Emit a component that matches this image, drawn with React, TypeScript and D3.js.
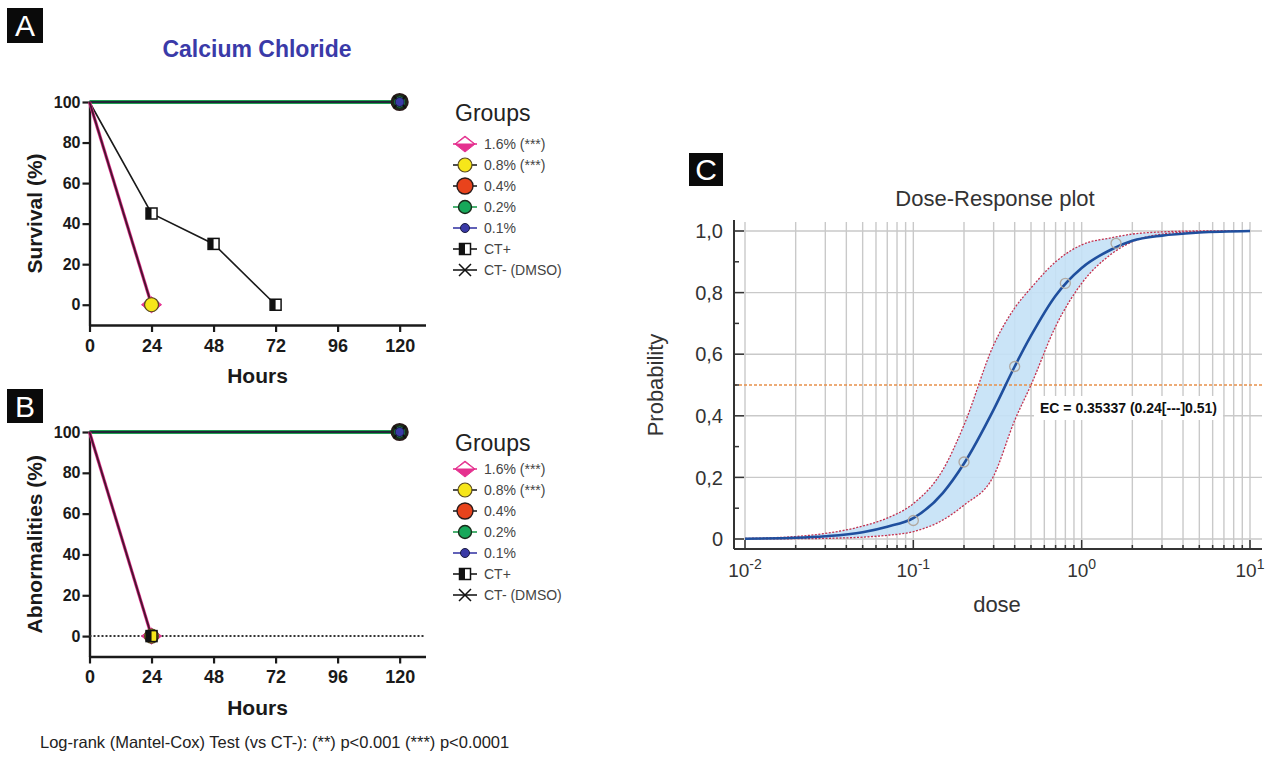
import React, { useEffect, useRef } from 'react';
import * as d3 from 'd3';

const WIDTH = 1272;
const HEIGHT = 759;
const FONT = '"Liberation Sans", Arial, Helvetica, sans-serif';

// ---- panels A and B ----
const GROUP_LABELS = ['1.6% (***)', '0.8% (***)', '0.4%', '0.2%', '0.1%', 'CT+', 'CT- (DMSO)'];
const HOUR_TICKS = [0, 24, 48, 72, 96, 120];
const PCT_TICKS = [0, 20, 40, 60, 80, 100];

// survival [hours, %]
const survival16 = [[0, 100], [24, 0]];
const survival08 = [[0, 100], [24, 0]];
const survival04 = [[0, 100], [120, 100]];
const survival02 = [[0, 100], [120, 100]];
const survival01 = [[0, 100], [120, 100]];
const survivalCTpos = [[0, 100], [24, 45], [48, 30], [72, 0]];
const survivalCTneg = [[0, 100], [120, 100]];

// abnormalities [hours, %]
const abnorm16 = [[0, 100], [24, 0]];
const abnorm08 = [[0, 100], [24, 0]];
const abnorm04 = [[0, 100], [120, 100]];
const abnorm02 = [[0, 100], [120, 100]];
const abnorm01 = [[0, 100], [120, 100]];
const abnormCTpos = [[0, 100], [24, 0]];
const abnormCTneg = [[0, 100], [120, 100]];

// ---- panel C ----
const DOSE_GRID = [0.01, 0.02, 0.03, 0.05, 0.07, 0.1, 0.15, 0.2, 0.3, 0.4, 0.5, 0.7, 1, 1.5, 2, 3, 5, 10];
const FIT_PROB = [0.001, 0.004, 0.009, 0.022, 0.04, 0.068, 0.15, 0.245, 0.42, 0.56, 0.66, 0.79, 0.88, 0.94, 0.968, 0.985, 0.995, 1.0];
const UPPER_PROB = [0.002, 0.008, 0.018, 0.042, 0.068, 0.115, 0.225, 0.37, 0.63, 0.75, 0.815, 0.9, 0.955, 0.978, 0.99, 0.997, 1.0, 1.0];
const LOWER_PROB = [0, 0.001, 0.002, 0.006, 0.012, 0.024, 0.062, 0.11, 0.205, 0.385, 0.5, 0.69, 0.83, 0.925, 0.965, 0.99, 0.998, 1.0];
const DOSE_OBS = [0.1, 0.2, 0.4, 0.8, 1.6];
const PROB_OBS = [0.06, 0.25, 0.56, 0.83, 0.96];
const PROB_TICKS = [0, 0.2, 0.4, 0.6, 0.8, 1.0];
const PROB_TICK_LABELS = ['0', '0,2', '0,4', '0,6', '0,8', '1,0'];
const PROB_MINOR = [0.1, 0.3, 0.5, 0.7, 0.9];
const DECADES = [0.01, 0.1, 1, 10];
const DECADE_EXP = ['-2', '-1', '0', '1'];
const EC_LABEL = 'EC = 0.35337 (0.24[---]0.51)';
const EC_LEVEL = 0.5;

const FOOTNOTE = 'Log-rank (Mantel-Cox) Test (vs CT-): (**) p<0.001 (***) p<0.0001';

// marker / line style of each group (same order as GROUP_LABELS)
const STYLES = [
  { line: '#e5318f', lw: 3.2, marker: 'diamond' },
  { line: '#4a1530', lw: 1.9, marker: 'yellow' },
  { line: '#d23a1c', lw: 1.5, marker: 'red' },
  { line: '#1f9e4f', lw: 3.8, marker: 'green' },
  { line: '#3a3aa6', lw: 1.5, marker: 'blue' },
  { line: '#1a1a1a', lw: 1.6, marker: 'square' },
  { line: '#1a1a1a', lw: 1.7, marker: 'times' },
];

const drawMarker = (g: any, kind: string, cx: number, cy: number, plot: boolean, squareOpen = false) => {
  const m = g.append('g').attr('transform', `translate(${cx},${cy})`);
  const ring = plot ? 2.2 : 1.4;
  if (kind === 'diamond') {
    m.append('path').attr('d', 'M0,-8L10,0L0,8L-10,0Z').attr('fill', '#e5318f').attr('stroke', '#e5318f').attr('stroke-width', 1);
    m.append('path').attr('d', 'M-8,-0.5L0,-6.5L8,-0.5Z').attr('fill', '#fff');
  } else if (kind === 'yellow') {
    m.append('circle').attr('r', 7).attr('fill', '#f6e61a').attr('stroke', '#5a4a20').attr('stroke-width', 1.2);
  } else if (kind === 'red') {
    m.append('circle').attr('r', 8).attr('fill', '#e8431c').attr('stroke', '#2a1a1a').attr('stroke-width', ring);
  } else if (kind === 'green') {
    m.append('circle').attr('r', 6.5).attr('fill', '#17a85a').attr('stroke', '#1a2a1a').attr('stroke-width', ring);
  } else if (kind === 'blue') {
    m.append('circle').attr('r', 4.5).attr('fill', '#3a3aa6').attr('stroke', '#1a1a40').attr('stroke-width', 1);
  } else if (kind === 'square') {
    m.append('rect').attr('x', -5.5).attr('y', -5.5).attr('width', 11).attr('height', 11)
      .attr('fill', squareOpen ? 'none' : '#fff').attr('stroke', '#111').attr('stroke-width', 1.5);
    m.append('rect').attr('x', -5.5).attr('y', -5.5).attr('width', 5.5).attr('height', 11).attr('fill', '#111');
  } else if (kind === 'times') {
    m.append('path').attr('d', 'M-6,-6L6,6M-6,6L6,-6').attr('stroke', '#111').attr('stroke-width', plot ? 2.2 : 1.5);
  }
};

const boxLabel = (svg: any, letter: string, x: number, y: number, w: number, h: number) => {
  svg.append('rect').attr('x', x).attr('y', y).attr('width', w).attr('height', h).attr('fill', '#0a0a0a');
  svg.append('text').attr('x', x + w / 2).attr('y', y + h / 2).attr('dy', '0.36em')
    .attr('text-anchor', 'middle').attr('font-size', 30).attr('fill', '#fff').text(letter);
};

const drawLegend = (svg: any, titleY: number, firstY: number) => {
  svg.append('text').attr('x', 455).attr('y', titleY).attr('font-size', 23).attr('fill', '#222').text('Groups');
  GROUP_LABELS.forEach((label, i) => {
    const cy = firstY + i * 21;
    const st = STYLES[i];
    svg.append('line').attr('x1', 453).attr('x2', 477).attr('y1', cy).attr('y2', cy)
      .attr('stroke', i === 1 || i === 2 ? '#222' : st.line).attr('stroke-width', 1.6);
    drawMarker(svg, st.marker, 465, cy, false);
    svg.append('text').attr('x', 484).attr('y', cy).attr('dy', '0.36em')
      .attr('font-size', 14).attr('fill', '#444').text(label);
  });
};

const drawPanel = (svg: any, yTop: number, yBottom: number, yLabel: string, series: number[][][], inB: boolean) => {
  const x = d3.scaleLinear().domain([0, 130]).range([89.5, 425.5]);
  const y = d3.scaleLinear().domain([-10, 100]).range([yBottom, yTop]);
  const g = svg.append('g');

  const styleAxis = (a: any, size: number) => {
    a.select('.domain').attr('stroke', '#1a1a1a').attr('stroke-width', 2.4);
    a.selectAll('.tick line').attr('stroke', '#1a1a1a').attr('stroke-width', 2.2);
    a.selectAll('.tick text').attr('fill', '#1a1a1a').attr('font-weight', 'bold')
      .attr('font-size', size).attr('font-family', FONT);
  };

  const yAxis = g.append('g').attr('transform', `translate(${x(0)},0)`)
    .call(d3.axisLeft(y).tickValues(PCT_TICKS).tickSize(7).tickSizeOuter(0).tickPadding(2));
  styleAxis(yAxis, 16);
  const xAxis = g.append('g').attr('transform', `translate(0,${y(-10)})`)
    .call(d3.axisBottom(x).tickValues(HOUR_TICKS).tickSize(7).tickSizeOuter(0).tickPadding(7));
  styleAxis(xAxis, 18);

  if (inB) {
    g.append('line').attr('x1', x(0)).attr('x2', x(130)).attr('y1', y(0)).attr('y2', y(0))
      .attr('stroke', '#333').attr('stroke-width', 2).attr('stroke-dasharray', '2,2');
  }

  const line = d3.line().x((d: any) => x(d[0])).y((d: any) => y(d[1]));
  // draw order: CT+, 0.4, 0.2, 0.1, CT-, 1.6, 0.8
  const order = [5, 2, 3, 4, 6, 0, 1];
  order.forEach((i) => {
    const st = STYLES[i];
    g.append('path').datum(series[i]).attr('d', line).attr('fill', 'none')
      .attr('stroke', st.line).attr('stroke-width', st.lw);
  });

  // markers (not at time 0)
  const markerOrder = inB ? [0, 1, 5, 2, 3, 6, 4] : [5, 0, 1, 2, 3, 6, 4];
  markerOrder.forEach((i) => {
    series[i].slice(1).forEach((d) => drawMarker(g, STYLES[i].marker, x(d[0]), y(d[1]), true, inB));
  });

  g.append('text').attr('transform', `translate(42,${(yTop + yBottom) / 2}) rotate(-90)`)
    .attr('text-anchor', 'middle').attr('font-weight', 'bold').attr('font-size', 21)
    .attr('fill', '#1a1a1a').text(yLabel);
  g.append('text').attr('x', (x(0) + x(130)) / 2).attr('y', yBottom + 58)
    .attr('text-anchor', 'middle').attr('font-weight', 'bold').attr('font-size', 21)
    .attr('fill', '#1a1a1a').text('Hours');
};

const drawDoseResponse = (svg: any) => {
  const left = 734, right = 1262, top = 220, bottom = 549;
  const x = d3.scaleLog().domain([0.01, 10]).range([745, 1250]);
  const y = d3.scaleLinear().domain([0, 1]).range([539, 231]);
  const g = svg.append('g');
  const grid = '#c9c9c9';

  // vertical grid at 1..9 x each decade
  const vTicks: number[] = [];
  DECADES.slice(0, 3).forEach((d) => d3.range(1, 10).forEach((k) => vTicks.push(d * k)));
  vTicks.push(10);
  g.selectAll('.vgrid').data(vTicks).join('line')
    .attr('x1', (d: number) => x(d)).attr('x2', (d: number) => x(d))
    .attr('y1', top + 2).attr('y2', bottom).attr('stroke', grid).attr('stroke-width', 1.4);
  g.selectAll('.hgrid').data(PROB_TICKS).join('line')
    .attr('x1', left).attr('x2', right).attr('y1', (d: number) => y(d)).attr('y2', (d: number) => y(d))
    .attr('stroke', grid).attr('stroke-width', 1.4);

  const rows = DOSE_GRID.map((d, i) => ({ d, fit: FIT_PROB[i], up: UPPER_PROB[i], lo: LOWER_PROB[i] }));
  const area = d3.area().x((r: any) => x(r.d)).y0((r: any) => y(r.lo)).y1((r: any) => y(r.up)).curve(d3.curveMonotoneX);
  g.append('path').datum(rows).attr('d', area).attr('fill', '#c4e1f6').attr('opacity', 0.9);

  g.append('line').attr('x1', left).attr('x2', right).attr('y1', y(EC_LEVEL)).attr('y2', y(EC_LEVEL))
    .attr('stroke', '#e8904a').attr('stroke-width', 1.6).attr('stroke-dasharray', '3,2');

  const mk = (key: string) => d3.line().x((r: any) => x(r.d)).y((r: any) => y(r[key])).curve(d3.curveMonotoneX);
  ['up', 'lo'].forEach((k) => {
    g.append('path').datum(rows).attr('d', mk(k)).attr('fill', 'none')
      .attr('stroke', '#c4304e').attr('stroke-width', 1.3).attr('stroke-dasharray', '2,1.5');
  });
  g.append('path').datum(rows).attr('d', mk('fit')).attr('fill', 'none')
    .attr('stroke', '#1f4f9e').attr('stroke-width', 2.6);

  g.selectAll('.obs').data(DOSE_OBS).join('circle')
    .attr('cx', (d: number) => x(d)).attr('cy', (d: number, i: number) => y(PROB_OBS[i])).attr('r', 5)
    .attr('fill', 'none').attr('stroke', '#b0a8a0').attr('stroke-width', 1.3);

  // axes
  g.append('line').attr('x1', left).attr('x2', left).attr('y1', top).attr('y2', bottom).attr('stroke', '#333').attr('stroke-width', 2);
  g.append('line').attr('x1', left).attr('x2', right).attr('y1', bottom).attr('y2', bottom).attr('stroke', '#333').attr('stroke-width', 2);
  g.selectAll('.ymaj').data(PROB_TICKS).join('line')
    .attr('x1', left).attr('x2', left + 10).attr('y1', (d: number) => y(d)).attr('y2', (d: number) => y(d))
    .attr('stroke', '#333').attr('stroke-width', 1.5);
  g.selectAll('.ymin').data(PROB_MINOR).join('line')
    .attr('x1', left).attr('x2', left + 5).attr('y1', (d: number) => y(d)).attr('y2', (d: number) => y(d))
    .attr('stroke', '#333').attr('stroke-width', 1.5);
  g.selectAll('.xtick').data(vTicks).join('line')
    .attr('x1', (d: number) => x(d)).attr('x2', (d: number) => x(d))
    .attr('y1', bottom).attr('y2', (d: number) => bottom - (DECADES.includes(d) ? 9 : 4))
    .attr('stroke', '#333').attr('stroke-width', 1.5);

  g.selectAll('.ylab').data(PROB_TICKS).join('text')
    .attr('x', 723).attr('y', (d: number) => y(d)).attr('dy', '0.36em').attr('text-anchor', 'end')
    .attr('font-size', 20).attr('fill', '#333').text((d: number, i: number) => PROB_TICK_LABELS[i]);

  DECADES.forEach((d, i) => {
    const t = g.append('text').attr('x', x(d)).attr('y', 577).attr('text-anchor', 'middle')
      .attr('font-size', 19).attr('fill', '#333');
    t.append('tspan').text('10');
    t.append('tspan').attr('dy', -8).attr('font-size', 14).text(DECADE_EXP[i]);
  });

  g.append('text').attr('x', 995).attr('y', 206).attr('text-anchor', 'middle')
    .attr('font-size', 22).attr('fill', '#333').text('Dose-Response plot');
  g.append('text').attr('x', 997).attr('y', 612).attr('text-anchor', 'middle')
    .attr('font-size', 22).attr('fill', '#333').text('dose');
  g.append('text').attr('transform', `translate(663,${y(EC_LEVEL)}) rotate(-90)`).attr('text-anchor', 'middle')
    .attr('font-size', 22).attr('fill', '#333').text('Probability');

  const ec = g.append('text').attr('x', 1040).attr('y', 413).attr('font-size', 14)
    .attr('font-weight', 'bold').attr('fill', '#111').text(EC_LABEL);
  const bb = ec.node().getBBox();
  g.insert('rect', () => ec.node()).attr('x', bb.x - 6).attr('y', bb.y - 4)
    .attr('width', bb.width + 12).attr('height', bb.height + 8).attr('fill', '#fff');
};

const App = () => {
  const svgRef = useRef<SVGSVGElement>(null);

  useEffect(() => {
    const svg = d3.select(svgRef.current);
    svg.selectAll('*').remove();
    svg.attr('font-family', FONT);
    svg.append('rect').attr('width', WIDTH).attr('height', HEIGHT).attr('fill', '#fff');

    boxLabel(svg, 'A', 7, 8, 36, 35);
    boxLabel(svg, 'B', 7, 389, 36, 34);
    boxLabel(svg, 'C', 689, 153, 34, 33);

    svg.append('text').attr('x', 257).attr('y', 57).attr('text-anchor', 'middle')
      .attr('font-size', 23).attr('font-weight', 'bold').attr('fill', '#3a3aa8').text('Calcium Chloride');

    drawPanel(svg, 102, 325, 'Survival (%)',
      [survival16, survival08, survival04, survival02, survival01, survivalCTpos, survivalCTneg], false);
    drawPanel(svg, 432, 656.5, 'Abnormalities (%)',
      [abnorm16, abnorm08, abnorm04, abnorm02, abnorm01, abnormCTpos, abnormCTneg], true);

    drawLegend(svg, 121, 144);
    drawLegend(svg, 451, 469);

    svg.append('text').attr('x', 40).attr('y', 748).attr('font-size', 16.5).attr('fill', '#222').text(FOOTNOTE);

    drawDoseResponse(svg);
  }, []);

  return (
    <svg ref={svgRef} width={WIDTH} height={HEIGHT}
      style={{ position: 'absolute', left: 0, top: 0, display: 'block' }} />
  );
};

export default App;
